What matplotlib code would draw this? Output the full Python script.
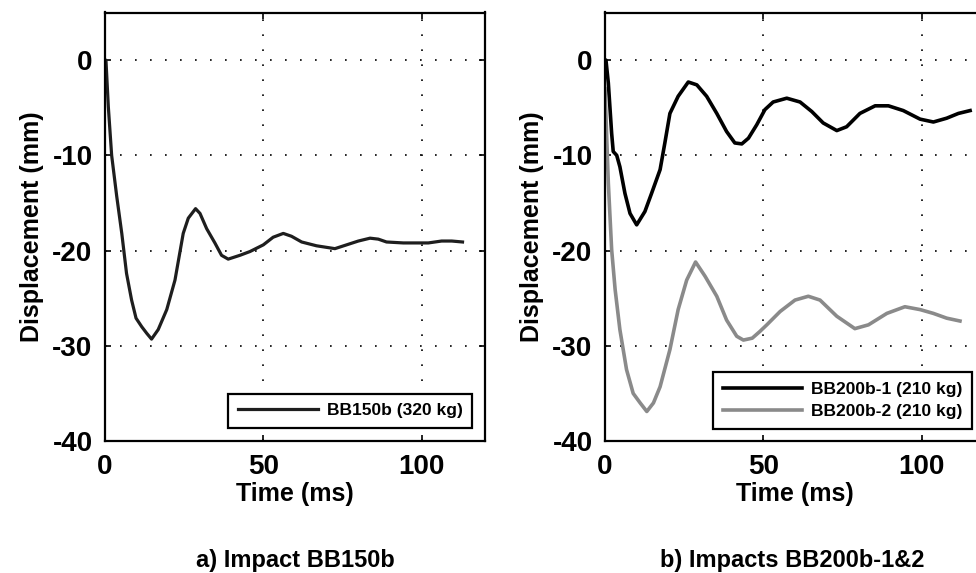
import matplotlib
matplotlib.use("Agg")
import matplotlib.pyplot as plt

plt.rcParams['font.family'] = ['Liberation Sans', 'DejaVu Sans']
plt.rcParams['font.weight'] = 'bold'

# BB150b (320 kg)
t_a = [0, 0.3, 1.05, 2.1, 3.7, 5.3, 6.8, 8.4, 9.8, 11.6, 13.2, 14.7, 16.8, 19.5, 22.1,
       24.7, 26.3, 28.6, 30.0, 32.1, 34.7, 36.8, 38.9, 42.6, 45.8, 50.0, 53.1, 56.3,
       58.9, 62.1, 66.8, 72.6, 76.3, 80.0, 83.7, 86.3, 88.9, 94.2, 98.4, 102.1, 106.3,
       109.5, 112.9]
d_a = [0, 0, -4.9, -10.0, -14.3, -18.2, -22.4, -25.2, -27.1, -28.0, -28.7, -29.3, -28.3,
       -26.2, -23.1, -18.2, -16.6, -15.6, -16.1, -17.7, -19.2, -20.5, -20.9, -20.5, -20.1,
       -19.4, -18.6, -18.2, -18.5, -19.1, -19.5, -19.8, -19.4, -19.0, -18.7, -18.8, -19.1,
       -19.2, -19.2, -19.2, -19.0, -19.0, -19.1]

# BB200b-1 (210 kg)
t_b1 = [0, 0.3, 1.05, 2.1, 2.6, 3.7, 4.7, 6.3, 7.9, 10.0, 12.6, 14.7, 17.4, 18.9, 20.5,
        23.1, 26.3, 29.0, 32.1, 35.3, 38.4, 41.0, 43.2, 45.3, 47.9, 50.5, 53.1, 57.4,
        61.6, 65.3, 68.9, 73.2, 76.3, 80.5, 85.3, 89.5, 94.2, 99.5, 103.7, 107.9, 111.6,
        115.3]
d_b1 = [0, 0, -2.4, -7.7, -9.6, -10.0, -11.2, -14.0, -16.1, -17.3, -15.9, -14.0, -11.5,
        -8.7, -5.6, -3.8, -2.3, -2.6, -3.8, -5.6, -7.5, -8.7, -8.8, -8.2, -6.8, -5.2, -4.4,
        -4.0, -4.4, -5.4, -6.6, -7.4, -7.0, -5.6, -4.8, -4.8, -5.3, -6.2, -6.5, -6.1, -5.6,
        -5.3]

# BB200b-2 (210 kg)
t_b2 = [0, 1.05, 2.1, 3.2, 4.7, 6.8, 8.9, 11.1, 13.2, 15.3, 17.4, 20.5, 23.1, 25.8,
        28.6, 31.6, 35.3, 38.4, 41.6, 43.7, 46.5, 48.9, 51.1, 55.3, 60.0, 64.2, 67.9,
        73.2, 78.9, 83.2, 89.0, 94.7, 99.5, 103.7, 107.9, 112.1]
d_b2 = [-3.0, -12.9, -19.9, -24.1, -28.3, -32.5, -35.0, -36.0, -36.9, -36.0, -34.3, -30.4,
        -26.2, -23.1, -21.2, -22.7, -24.8, -27.3, -29.0, -29.4, -29.2, -28.5, -27.8, -26.4,
        -25.2, -24.8, -25.2, -26.9, -28.2, -27.8, -26.6, -25.9, -26.2, -26.6, -27.1, -27.4]

x_ticks = [0, 50, 100]
y_ticks = [0, -10, -20, -30, -40]

W, H = 976, 573
fig = plt.figure(figsize=(W / 100, H / 100), dpi=100)


def px_axes(x0, x1, y0, y1):
    return fig.add_axes([x0 / W, 1 - y1 / H, (x1 - x0) / W, (y1 - y0) / H])


def style(ax):
    ax.set_xlim(0, 120)
    ax.set_ylim(-40, 5)
    ax.set_xticks(x_ticks)
    ax.set_yticks(y_ticks)
    ax.set_xticklabels([str(v) for v in x_ticks], fontsize=20, fontweight='bold')
    ax.set_yticklabels([str(v) for v in y_ticks], fontsize=20, fontweight='bold')
    ax.tick_params(direction='in', length=4, width=1.2, top=True, right=True, pad=9)
    ax.grid(True, color='black', linestyle=(0, (1, 8)), linewidth=1.2)
    for s in ax.spines.values():
        s.set_linewidth(1.6)
    ax.set_xlabel('Time (ms)', fontsize=18, fontweight='bold', labelpad=2)
    ax.set_ylabel('Displacement (mm)', fontsize=18, fontweight='bold', labelpad=6)


ax1 = px_axes(105, 485, 12.5, 441)
ax2 = px_axes(605, 985, 12.5, 441)

ax1.plot(t_a, d_a, color='#1e1e1e', lw=2.3, label='BB150b (320 kg)',
         solid_joinstyle='round')
ax2.plot(t_b1, d_b1, color='black', lw=2.6, label='BB200b-1 (210 kg)',
         solid_joinstyle='round')
ax2.plot(t_b2, d_b2, color='#8a8a8a', lw=2.6, label='BB200b-2 (210 kg)',
         solid_joinstyle='round')

for ax in (ax1, ax2):
    style(ax)

leg_kw = dict(loc='lower right', bbox_transform=fig.transFigure, borderaxespad=0,
              fancybox=False, edgecolor='black', framealpha=1,
              prop={'size': 12.5, 'weight': 'bold'},
              handlelength=4.6, handletextpad=0.5, borderpad=0.55, labelspacing=0.42)
l1 = ax1.legend(bbox_to_anchor=(472 / W, 1 - 428 / H), **leg_kw)
l2 = ax2.legend(bbox_to_anchor=(972 / W, 1 - 429 / H), **leg_kw)
for lg in (l1, l2):
    lg.get_frame().set_linewidth(1.6)

fig.text(295 / W, 1 - 560 / H, 'a) Impact BB150b', ha='center', va='center',
         fontsize=17, fontweight='bold')
fig.text(792 / W, 1 - 560 / H, 'b) Impacts BB200b-1&2', ha='center', va='center',
         fontsize=17, fontweight='bold')

fig.savefig('out.png', dpi=100)
